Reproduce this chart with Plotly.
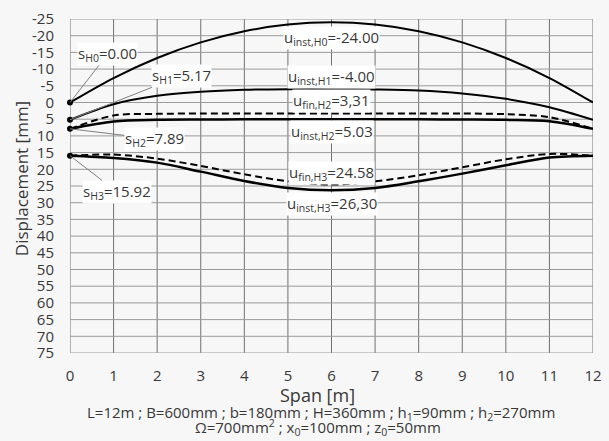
import plotly.graph_objects as go

span = [0, 1, 2, 3, 4, 5, 6, 7, 8, 9, 10, 11, 12]
u_inst_H0 = [0.00, -7.33, -13.33, -18.00, -21.33, -23.33, -24.00, -23.33, -21.33, -18.00, -13.33, -7.33, 0.00]
u_inst_H1 = [5.17, 0.5, -2.0, -3.2, -3.8, -4.0, -4.0, -3.9, -3.6, -2.7, -1.1, 1.4, 5.17]
u_inst_H2 = [7.89, 5.7, 5.2, 5.1, 5.05, 5.03, 5.03, 5.03, 5.05, 5.1, 5.2, 5.6, 7.89]
u_fin_H2 = [7.89, 3.9, 3.4, 3.3, 3.3, 3.31, 3.31, 3.31, 3.3, 3.3, 3.5, 4.4, 7.89]
u_inst_H3 = [15.92, 16.6, 18.0, 20.7, 23.5, 25.6, 26.30, 25.6, 23.6, 21.3, 18.8, 16.5, 15.92]
u_fin_H3 = [15.92, 15.6, 16.8, 19.0, 21.5, 23.6, 24.58, 23.6, 21.8, 19.4, 17.0, 15.4, 15.92]
s_H = [0.00, 5.17, 7.89, 15.92]

y_ticks = list(range(-25, 80, 5))
y_ticktext = [str(v) for v in y_ticks]
x_ticks = list(range(0, 13))

FONT = "Open Sans"
TXT = "#383838"

fig = go.Figure()

# grid drawn from the tick arrays
for xv in x_ticks:
    fig.add_shape(type="line", xref="x", yref="y", x0=xv, x1=xv, y0=y_ticks[0], y1=y_ticks[-1],
                  line=dict(color="#707070", width=1), layer="below")
for yv in y_ticks:
    fig.add_shape(type="line", xref="x", yref="y", x0=x_ticks[0], x1=x_ticks[-1], y0=yv, y1=yv,
                  line=dict(color="#9a9a9a", width=1), layer="below")

solid = dict(color="black", width=2, shape="spline", smoothing=0.9)
dashed = dict(color="black", width=2, dash="7px,4px", shape="spline", smoothing=0.9)
for ys, ln in [(u_inst_H0, solid), (u_inst_H1, solid), (u_inst_H2, dict(solid, width=2.5)),
               (u_fin_H2, dashed), (u_inst_H3, dict(solid, width=2.5)), (u_fin_H3, dashed)]:
    fig.add_trace(go.Scatter(x=span, y=ys, mode="lines", line=ln, showlegend=False, hoverinfo="skip"))
fig.add_trace(go.Scatter(x=[0] * len(s_H), y=s_H, mode="markers",
                         marker=dict(color="black", size=6), showlegend=False, cliponaxis=False,
                         hoverinfo="skip"))

ann_font = dict(family=FONT, size=15, color=TXT)
s_labels = [
    ("s<sub>H0</sub>=0.00", 0.87, -14.6, s_H[0]),
    ("s<sub>H1</sub>=5.17", 2.55, -8.0, s_H[1]),
    ("s<sub>H2</sub>=7.89", 1.93, 10.9, s_H[2]),
    ("s<sub>H3</sub>=15.92", 1.08, 26.8, s_H[3]),
]
for txt, tx, ty, py in s_labels:
    fig.add_annotation(x=0, y=py, ax=tx, ay=ty, axref="x", ayref="y", text=txt,
                       showarrow=True, arrowhead=0, arrowwidth=1, arrowcolor="#808080",
                       font=ann_font, bgcolor="#ffffff", borderpad=0)

mid_labels = [
    ("u<sub>inst,H0</sub>=-24.00", -19.4),
    ("u<sub>inst,H1</sub>=-4.00", -7.7),
    ("u<sub>fin,H2</sub>=3,31", -0.5),
    ("u<sub>inst,H2</sub>=5.03", 8.8),
    ("u<sub>fin,H3</sub>=24.58", 21.0),
    ("u<sub>inst,H3</sub>=26,30", 30.3),
]
for txt, ty in mid_labels:
    fig.add_annotation(x=6.0, y=ty, text=txt, showarrow=False, font=ann_font,
                       bgcolor="#ffffff", borderpad=0)

fig.add_annotation(xref="paper", yref="paper", x=0.4735, y=-0.127, text="Span [m]",
                   xanchor="center", yanchor="middle",
                   showarrow=False, font=dict(family=FONT, size=18, color=TXT))
fig.add_annotation(xref="paper", yref="paper", x=-0.094, y=0.523, text="Displacement [mm]",
                   xanchor="center", yanchor="middle",
                   textangle=-90, showarrow=False, font=dict(family=FONT, size=17, color=TXT))
fig.add_annotation(xref="paper", yref="paper", x=0.48, y=-0.1805,
                   xanchor="center", yanchor="middle",
                   text="L=12m ; B=600mm ; b=180mm ; H=360mm ; h<sub>1</sub>=90mm ; h<sub>2</sub>=270mm",
                   showarrow=False, font=dict(family=FONT, size=15, color=TXT))
fig.add_annotation(xref="paper", yref="paper", x=0.475, y=-0.2245,
                   xanchor="center", yanchor="middle",
                   text="Ω=700mm<sup>2</sup> ; x<sub>0</sub>=100mm ; z<sub>0</sub>=50mm",
                   showarrow=False, font=dict(family=FONT, size=15, color=TXT))

fig.update_layout(
    width=609, height=441,
    margin=dict(l=70, r=16, t=19, b=88, autoexpand=False),
    paper_bgcolor="#f7f7f7", plot_bgcolor="#f7f7f7",
    font=dict(family=FONT, size=14, color=TXT),
    hovermode=False,
)
fig.update_xaxes(range=[0, 12], tickvals=x_ticks, showgrid=False, showline=False,
                 zeroline=False, automargin=False,
                 ticks="outside", ticklen=9, tickcolor="rgba(0,0,0,0)", tickfont=dict(size=15))
fig.update_yaxes(range=[75, -25], tickvals=y_ticks, ticktext=y_ticktext, showgrid=False,
                 showline=False, automargin=False, zeroline=False, ticks="outside", ticklen=12,
                 tickcolor="rgba(0,0,0,0)", tickfont=dict(size=15))

fig.write_html("out.html", config={"displayModeBar": False},
               post_script="document.body.style.margin='0px';")
